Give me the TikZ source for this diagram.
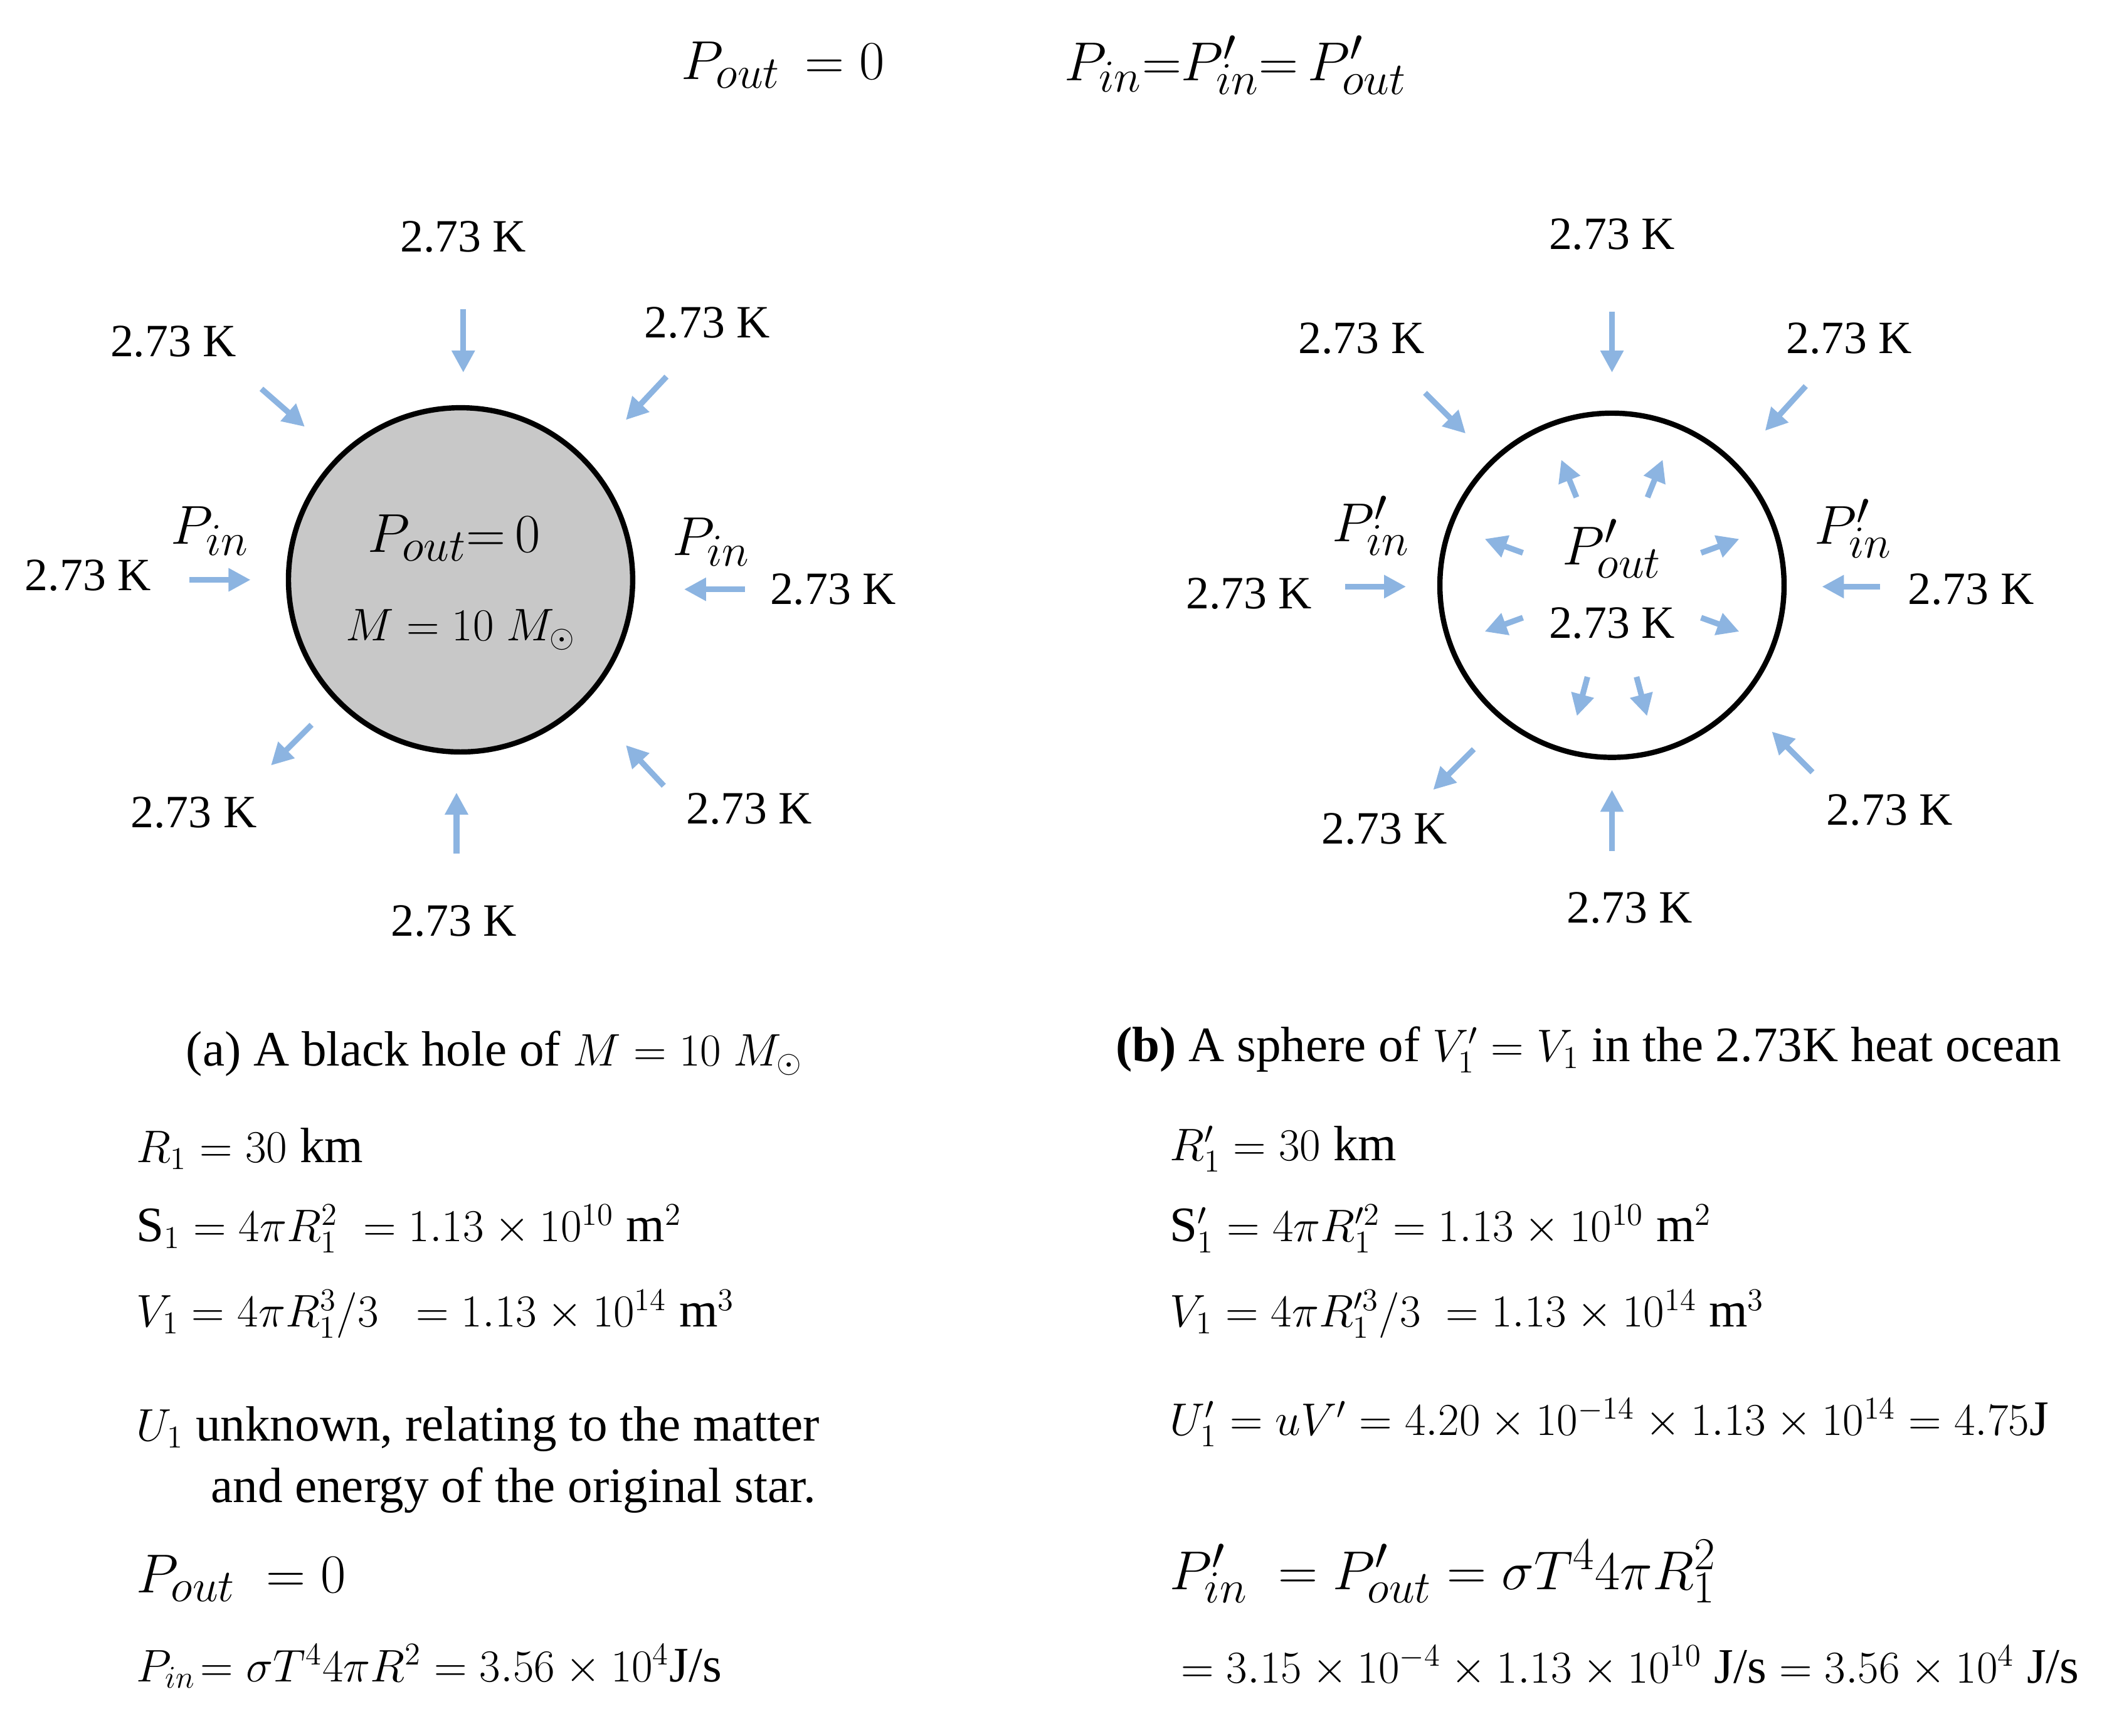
\documentclass[tikz,border=0pt]{standalone}
\usepackage{fontspec}
\setmainfont{Liberation Serif}
\usetikzlibrary{arrows.meta,calc}
\begin{document}
\begin{tikzpicture}[x=0.0216cm,y=-0.0216cm,
  blu/.style={draw={rgb,255:red,140;green,180;blue,225},line width=2.6pt,-{Triangle[length=10pt,width=10pt]}},
  lab/.style={font=\fontsize{21}{24}\selectfont},
  big/.style={font=\fontsize{28}{32}\selectfont},
  txt/.style={font=\fontsize{22.5}{26}\selectfont,anchor=west}]
\useasboundingbox (0,0) rectangle (1568,1281);
\node[big] (h1) at (578,48) {$P_{out}\,=0$};
\node[big] (h2) at (912,48) {$P_{in}{=}P'_{in}{=}\,P'_{out}$};
% left
\node[circle,draw,line width=2.4pt,fill={rgb,255:red,200;green,200;blue,200},minimum size=5.49cm] (c1) at (340,428) {};
\node[big] (po) at (335,397) {$P_{out}{=}\,0$};
\node[font=\fontsize{22}{26}\selectfont] (m) at (340,465) {$M = 10\ M_\odot$};
\foreach \n/\lx/\ly/\ax/\ay/\bx/\by in {a/342/175/342/228/342/275, b/128/252/193/287/225/315, c/522/238/492/278/462/310, d/65/425/140/428/185/428, e/615/435/550/435/505/435, f/143/600/230/535/200/565, g/335/680/337/630/337/585, h/553/597/490/580/462/550}{
  \node[lab] (L\n) at (\lx,\ly) {2.73 K};
  \coordinate (A\n) at (\ax,\ay); \coordinate (B\n) at (\bx,\by);
  \draw[blu] (A\n) -- (B\n);}
\node[big] (pi1) at (155,392) {$P_{in}$};
\node[big] (pi2) at (525,400) {$P_{in}$};
% right
\node[circle,draw,line width=2.4pt,fill=white,minimum size=5.49cm] (c2) at (1190,432) {};
\foreach \n/\lx/\ly/\ax/\ay/\bx/\by in {a/1190/173/1190/230/1190/275, b/1005/250/1052/290/1082/320, c/1365/250/1333/285/1303/318, d/922/438/993/433/1038/433, e/1455/435/1388/433/1345/433, f/1022/612/1088/553/1058/583, g/1203/670/1190/628/1190/583, h/1395/598/1338/570/1308/540}{
  \node[lab] (R\n) at (\lx,\ly) {2.73 K};
  \coordinate (C\n) at (\ax,\ay); \coordinate (D\n) at (\bx,\by);
  \draw[blu] (C\n) -- (D\n);}
\coordinate (ctr) at (1190,432);
\foreach \ang in {112,68,160,20,200,340,255,285}{
  \draw[blu] ($(ctr)+(-\ang:70)$) -- ($(ctr)+(-\ang:100)$);}
\node[big] (po2) at (1190,405) {$P'_{out}$};
\node[lab] (in2) at (1190,460) {2.73 K};
\node[big] (pi3) at (1012,388) {$P'_{in}$};
\node[big] (pi4) at (1368,390) {$P'_{in}$};
% bottom left
\node[txt,anchor=center] (ca) at (365,778) {(a) A black hole of $M = 10\ M_\odot$};
\node[txt] (l1) at (95,848) {$R_1 = 30$ km};
\node[txt] (l2) at (95,907) {S$_1 = 4\pi R_1^2\ = 1.13\times10^{10}$ m$^2$};
\node[txt] (l3) at (95,970) {$V_1 = 4\pi R_1^3/3\ \ = 1.13\times10^{14}$ m$^3$};
\node[txt] (l4) at (95,1055) {$U_1$ unknown, relating to the matter};
\node[txt] (l5) at (150,1100) {and energy of the original star.};
\node[big,anchor=west] (l6) at (95,1165) {$P_{out}\ =0$};
\node[txt] (l7) at (95,1230) {$P_{in}\!= \sigma T^4 4\pi R^2 = 3.56\times10^4$J/s};
% bottom right
\node[txt] (cb) at (818,775) {\textbf{(b)} A sphere of $V_1' = V_1$ in the 2.73K heat ocean};
\node[txt] (r1) at (858,848) {$R'_1 = 30$ km};
\node[txt] (r2) at (858,907) {S$'_1 = 4\pi R'^2_1 = 1.13\times10^{10}$ m$^2$};
\node[txt] (r3) at (858,970) {$V_1 = 4\pi R'^3_1/3\ = 1.13\times10^{14}$ m$^3$};
\node[txt] (r4) at (858,1050) {$U'_1 = uV' = 4.20\times10^{-14}\times1.13\times10^{14} = 4.75$J};
\node[big,anchor=west] (r5) at (858,1160) {$P'_{in}\ = P'_{out} = \sigma T^4 4\pi R_1^2$};
\node[txt] (r6) at (866,1230) {$= 3.15\times10^{-4}\times1.13\times10^{10}$ J/s $= 3.56\times10^4$ J/s};
\end{tikzpicture}
\end{document}
